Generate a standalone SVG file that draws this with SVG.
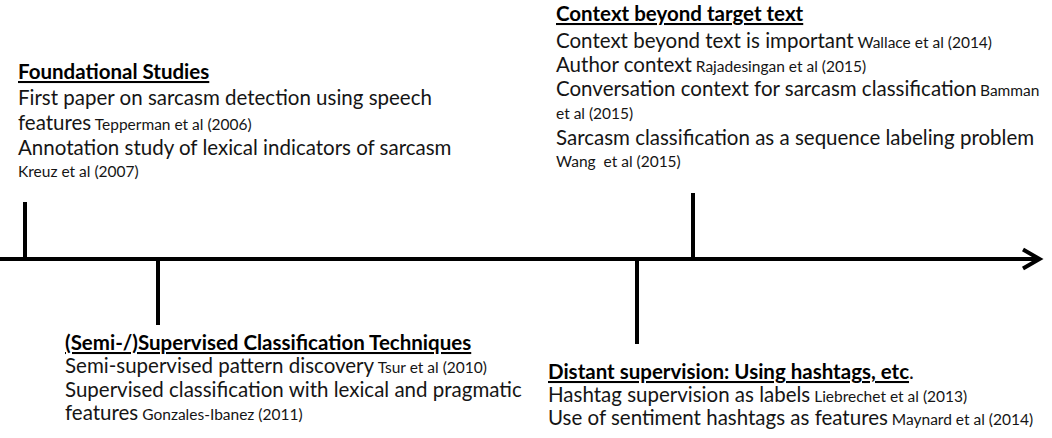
<svg xmlns="http://www.w3.org/2000/svg" width="1052" height="438" viewBox="0 0 1052 438">
<style>
text{font-family:Lato,"Open Sans","Liberation Sans",sans-serif;fill:#151515}
.t{font-size:20.5px;font-weight:bold;text-decoration:underline;fill:#000}
.b{font-size:20.5px}
.c{font-size:15.5px}
.ln{stroke:#000;stroke-width:4;fill:none}
</style>
<rect width="1052" height="438" fill="#fff"/>
<g id="connectors">
<line class="ln" x1="0" y1="259" x2="1038" y2="259"/>
<polyline class="ln" points="1023,249.5 1039.5,259 1023,268.5" stroke-linejoin="miter"/>
<line class="ln" x1="25" y1="202" x2="25" y2="259"/>
<line class="ln" x1="158" y1="259" x2="158" y2="325"/>
<line class="ln" x1="637" y1="259" x2="637" y2="344"/>
<line class="ln" x1="693" y1="193" x2="693" y2="259"/>
</g>
<g id="foundational">
<text class="t" x="18" y="79">Foundational Studies</text>
<text class="b" x="18" y="105">First paper on sarcasm detection using speech</text>
<text x="18" y="130"><tspan class="b">features</tspan><tspan class="c"> Tepperman et al (2006)</tspan></text>
<text class="b" x="18" y="155">Annotation study of lexical indicators of sarcasm</text>
<text class="c" x="18" y="177">Kreuz et al (2007)</text>
</g>
<g id="context">
<text class="t" x="556" y="21">Context beyond target text</text>
<text x="556" y="48"><tspan class="b">Context beyond text is important</tspan><tspan class="c"> Wallace et al (2014)</tspan></text>
<text x="556" y="72"><tspan class="b">Author context</tspan><tspan class="c"> Rajadesingan et al (2015)</tspan></text>
<text x="556" y="96"><tspan class="b">Conversation context for sarcasm classification</tspan><tspan class="c" x="980">Bamman</tspan></text>
<text class="c" x="556" y="119">et al (2015)</text>
<text class="b" x="556" y="145">Sarcasm classification as a sequence labeling problem</text>
<text class="c" x="556" y="167" xml:space="preserve">Wang  et al (2015)</text>
</g>
<g id="supervised">
<text class="t" x="65" y="350">(Semi-/)Supervised Classification Techniques</text>
<text x="65" y="373"><tspan class="b">Semi-supervised pattern discovery</tspan><tspan class="c"> Tsur et al (2010)</tspan></text>
<text class="b" x="65" y="397">Supervised classification with lexical and pragmatic</text>
<text x="65" y="420"><tspan class="b">features</tspan><tspan class="c"> Gonzales-Ibanez (2011)</tspan></text>
</g>
<g id="distant">
<text x="548" y="379"><tspan class="t">Distant supervision: Using hashtags, etc</tspan><tspan class="b">.</tspan></text>
<text x="548" y="402"><tspan class="b">Hashtag supervision as labels</tspan><tspan class="c"> Liebrechet et al (2013)</tspan></text>
<text x="548" y="425"><tspan class="b">Use of sentiment hashtags as features</tspan><tspan class="c"> Maynard et al (2014)</tspan></text>
</g>
</svg>
